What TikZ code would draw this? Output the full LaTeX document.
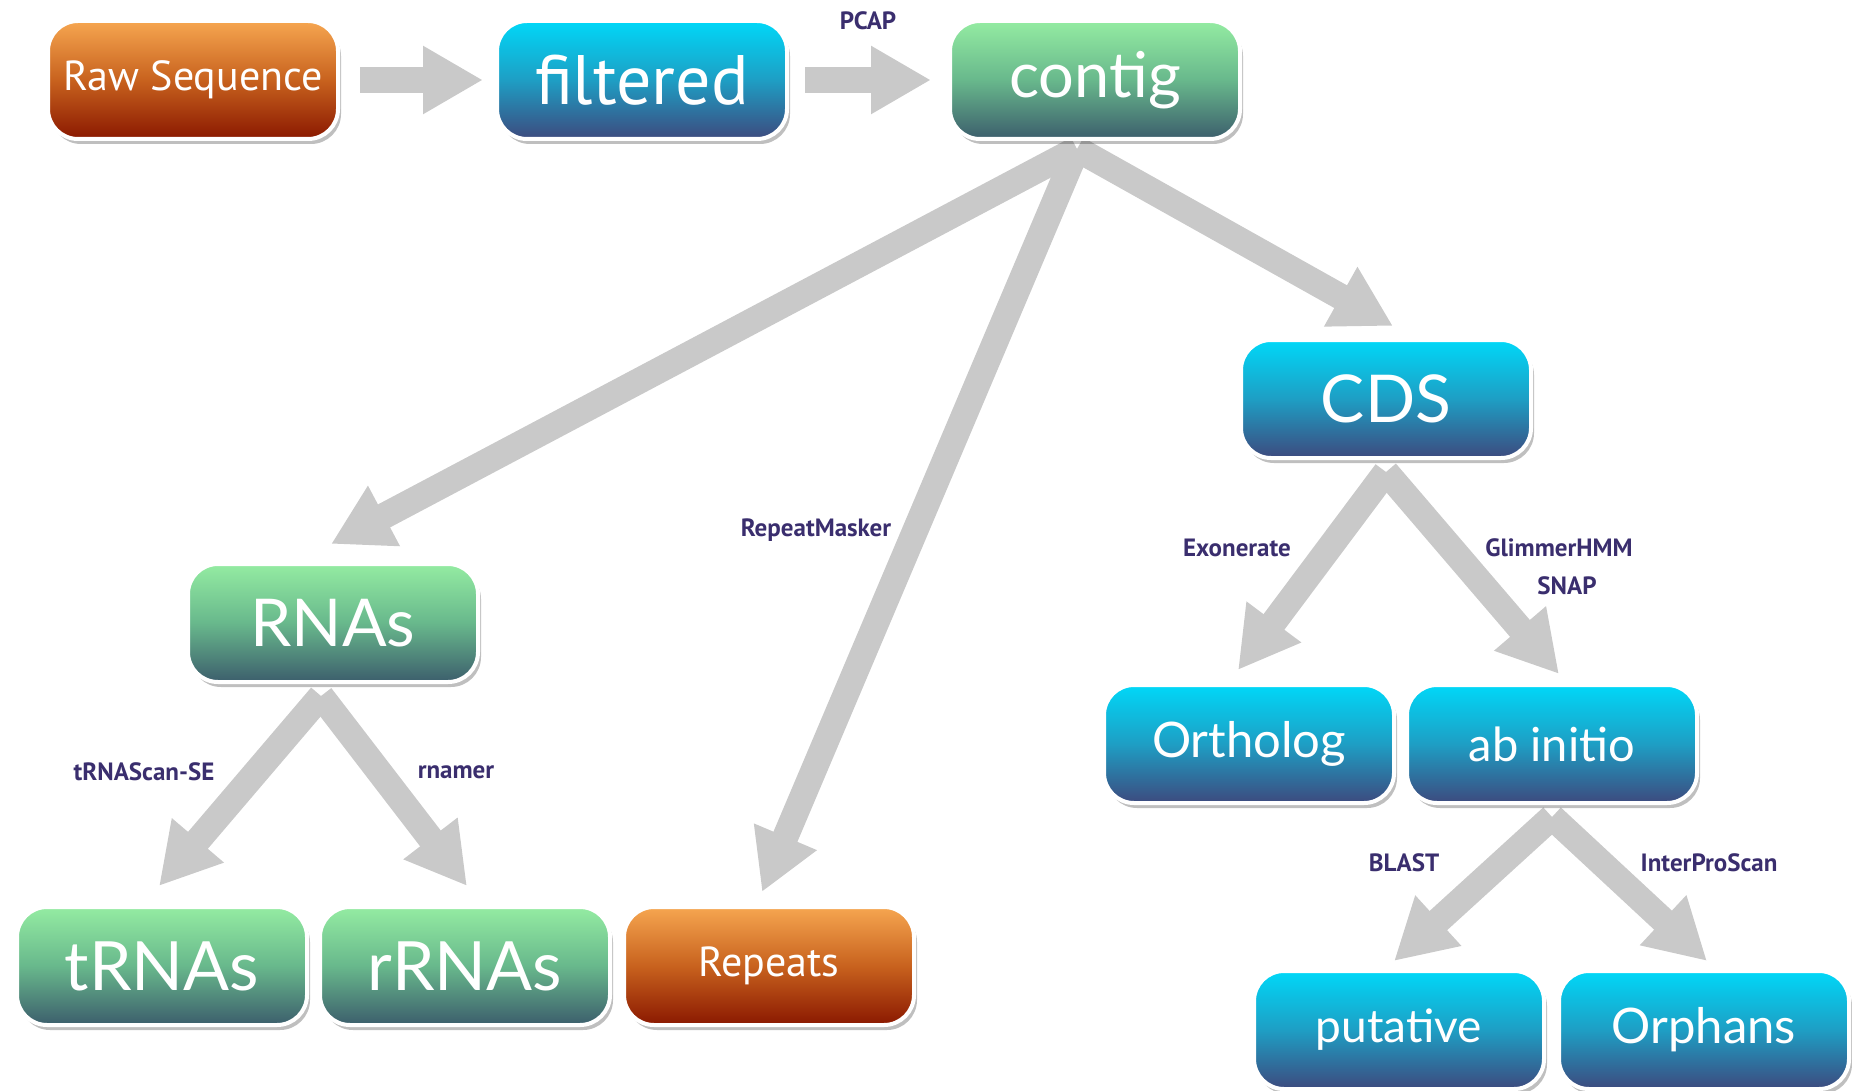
\documentclass[tikz,border=0pt]{standalone}
\usepackage{fontspec}
\setmainfont{Lato}
\newfontfamily\narrowfont{PT Sans}
\newfontfamily\labelfont{PT Sans}
\usetikzlibrary{arrows.meta,shadows,backgrounds}
\definecolor{orTop}{HTML}{F6A650}
\definecolor{orMid}{HTML}{C8621E}
\definecolor{orBot}{HTML}{8A1800}
\definecolor{blTop}{HTML}{00D8F8}
\definecolor{blMid}{HTML}{1E9EC4}
\definecolor{blBot}{HTML}{3D4A7E}
\definecolor{grTop}{HTML}{94ECA2}
\definecolor{grMid}{HTML}{68B88C}
\definecolor{grBot}{HTML}{3C5E6C}
\definecolor{labc}{HTML}{3A2E6E}
\definecolor{arrc}{HTML}{C9C9C9}
\tikzset{
  box/.style={rounded corners=15pt, minimum width=145pt, minimum height=59pt,
    draw=white, line width=2pt, text=white, inner sep=0pt,
    drop shadow={shadow xshift=1.5pt, shadow yshift=-2.5pt, opacity=0.25, fill=black}},
  orangebox/.style={box, top color=orTop, bottom color=orBot, middle color=orMid},
  bluebox/.style={box, top color=blTop, bottom color=blBot, middle color=blMid},
  greenbox/.style={box, top color=grTop, bottom color=grBot, middle color=grMid},
  tool/.style={text=labc, font=\labelfont\bfseries\fontsize{12.5}{14}\selectfont, inner sep=1pt},
  bigarrow/.style={draw=arrc, line width=13pt, -{Triangle[width=32pt,length=30pt]}},
}
\begin{document}
\begin{tikzpicture}[x=0.5pt,y=-0.5pt]
\useasboundingbox (0,0) rectangle (1852,1091);
% nodes
\node[orangebox, font=\narrowfont\fontsize{21}{24}\selectfont] (raw) at (193,80) {Raw Sequence};
\node[bluebox, font=\narrowfont\fontsize{35}{40}\selectfont] (filtered) at (642,80) {filtered};
\node[greenbox, font=\fontsize{31.5}{38}\selectfont] (contig) at (1095,80) {contig};
\node[bluebox, font=\fontsize{33}{40}\selectfont] (cds) at (1386,399) {CDS};
\node[greenbox, font=\fontsize{33}{40}\selectfont] (rnas) at (333,623) {RNAs};
\node[bluebox, font=\fontsize{24.5}{30}\selectfont] (ortholog) at (1249,744) {Ortholog};
\node[bluebox, font=\fontsize{23.5}{30}\selectfont] (abinitio) at (1552,744) {ab initio};
\node[greenbox, font=\fontsize{34}{40}\selectfont] (trnas) at (162,966) {tRNAs};
\node[greenbox, font=\fontsize{34}{40}\selectfont] (rrnas) at (465,966) {rRNAs};
\node[orangebox, font=\narrowfont\fontsize{21}{26}\selectfont] (repeats) at (769,966) {Repeats};
\node[bluebox, font=\fontsize{23}{30}\selectfont] (putative) at (1399,1030) {putative};
\node[bluebox, font=\fontsize{24.5}{30}\selectfont] (orphans) at (1704,1030) {Orphans};
% tool labels
\node[tool] (pcap) at (868,21) {PCAP};
\node[tool] (repmask) at (816,530) {RepeatMasker};
\node[tool] (exon) at (1237,548) {Exonerate};
\node[tool] (glimmer) at (1559,548) {GlimmerHMM};
\node[tool] (snap) at (1567,586) {SNAP};
\node[tool] (trnascan) at (144,772) {tRNAScan-SE};
\node[tool] (rnamer) at (456,772) {rnamer};
\node[tool] (blast) at (1404,863) {BLAST};
\node[tool] (interpro) at (1709,863) {InterProScan};
% arrows
\begin{scope}[on background layer]
\draw[bigarrow] ([xshift=10pt]raw.east) -- ([xshift=-6pt]filtered.west);
\draw[bigarrow] ([xshift=8pt]filtered.east) -- ([xshift=-8.5pt]contig.west);
\draw[bigarrow] ([xshift=-9pt,yshift=-4pt]contig.south) -- ([xshift=3.5pt,yshift=6pt]cds.north);
\draw[bigarrow] ([xshift=-9pt,yshift=-4pt]contig.south) -- ([xshift=-1pt,yshift=9pt]rnas.north);
\draw[bigarrow] ([xshift=-9pt,yshift=-4pt]contig.south) -- ([xshift=-3.5pt,yshift=6.5pt]repeats.north);
\draw[bigarrow] ([yshift=-6pt]cds.south) -- ([xshift=-5.5pt,yshift=6.5pt]ortholog.north);
\draw[bigarrow] ([yshift=-6pt]cds.south) -- ([xshift=3.5pt,yshift=4.5pt]abinitio.north);
\draw[bigarrow] ([xshift=-6pt,yshift=-6pt]rnas.south) -- ([xshift=-1.5pt,yshift=9.5pt]trnas.north);
\draw[bigarrow] ([xshift=-6pt,yshift=-6pt]rnas.south) -- ([xshift=1pt,yshift=9.5pt]rrnas.north);
\draw[bigarrow] ([yshift=-6pt]abinitio.south) -- ([xshift=-2.5pt,yshift=4pt]putative.north);
\draw[bigarrow] ([yshift=-6pt]abinitio.south) -- ([xshift=1.5pt,yshift=4pt]orphans.north);
\end{scope}
\end{tikzpicture}
\end{document}
